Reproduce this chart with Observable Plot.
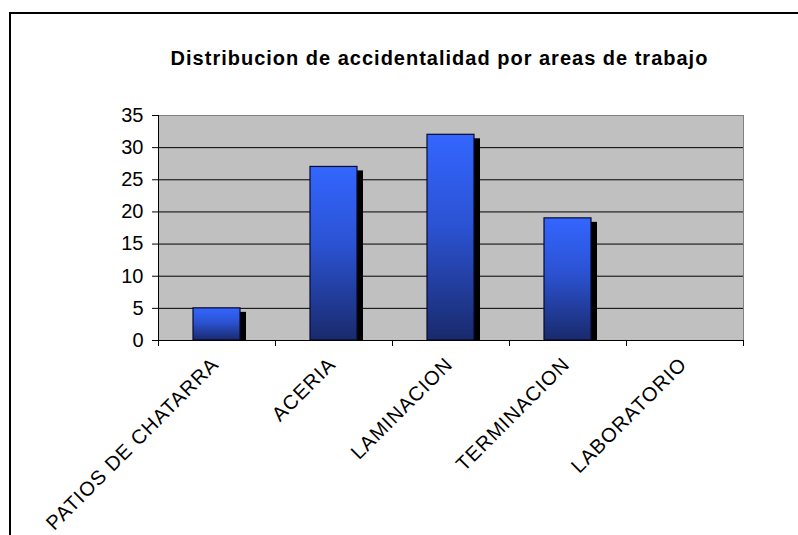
<!DOCTYPE html>
<html>
<head>
<meta charset="utf-8">
<script src="https://cdn.jsdelivr.net/npm/d3@7"></script>
<script src="https://cdn.jsdelivr.net/npm/@observablehq/plot@0.6"></script>
<style>
  body { margin: 0; background: #fff; font-family: "Liberation Sans", Arial, sans-serif; }
  #wrap { position: relative; width: 798px; height: 535px; overflow: hidden; background: #fff; }
  #frame { position: absolute; left: 9px; top: 12px; width: 900px; height: 600px;
           border-left: 2px solid #000; border-top: 2px solid #000; }
  #title { position: absolute; left: 0; width: 879px; top: 48px; line-height: 20px;
           text-align: center; font-weight: bold; font-size: 20px; letter-spacing: 1px; color: #000; z-index: 2; }
  #wrap svg { position: absolute; left: 0; top: 0; }
</style>
</head>
<body>
<div id="wrap">
  <div id="frame"></div>
  <div id="title">Distribucion de accidentalidad por areas de trabajo</div>
</div>
<script>
const titleText = "Distribucion de accidentalidad por areas de trabajo";
const categories = ["PATIOS DE CHATARRA", "ACERIA", "LAMINACION", "TERMINACION", "LABORATORIO"];
const values = [5, 27, 32, 19, 0];
const yTicks = [0, 5, 10, 15, 20, 25, 30, 35];
const gridValues = [5, 10, 15, 20, 25, 30];

document.getElementById("title").textContent = titleText;

const data = categories.map((c, i) => ({cat: c, value: values[i]}));
const bars = data.filter(d => d.value > 0);

const svg = Plot.plot({
  width: 798,
  height: 535,
  marginLeft: 158,
  marginRight: 55,
  marginTop: 115,
  marginBottom: 195,
  style: {fontFamily: "'Liberation Sans', Arial, sans-serif", background: "transparent", color: "#000", overflow: "visible"},
  x: {domain: categories, padding: 0, label: null},
  y: {domain: [0, 35], label: null},
  marks: [
    Plot.frame({fill: "#c0c0c0", stroke: "#808080", strokeWidth: 1}),
    Plot.ruleY(gridValues, {stroke: "#000", strokeWidth: 1}),
    // shadows
    Plot.barY(bars, {x: "cat", y: "value", fill: "#000", insetLeft: 35, insetRight: 35, insetTop: 4, dx: 6}),
    // bars
    Plot.barY(bars, {x: "cat", y: "value", fill: "url(#barGrad)", stroke: "#0a0a2a", strokeWidth: 1.2, insetLeft: 35, insetRight: 35}),
    // axis lines
    Plot.ruleY([0], {stroke: "#000", strokeWidth: 1}),
    Plot.ruleX([categories[0]], {dx: -58.5, stroke: "#000", strokeWidth: 1}),
    // y axis ticks and labels
    Plot.axisY({ticks: yTicks, tickSize: 6, tickPadding: 9, fontSize: 20, label: null, stroke: "#000", fill: "#000"}),
    // x boundary ticks
    Plot.axisX({ticks: categories, tickSize: 6, text: null, label: null, dx: -58.5, stroke: "#000"}),
    Plot.axisX({ticks: [categories[categories.length - 1]], tickSize: 6, text: null, label: null, dx: 58.5, stroke: "#000"}),
    // category labels
    Plot.text(categories, {x: d => d, frameAnchor: "bottom", rotate: -45, textAnchor: "end", lineAnchor: "bottom",
      dx: 3, dy: 25, fontSize: 20, fill: "#000"})
  ]
});

const defs = d3.select(svg).insert("defs", ":first-child");
const grad = defs.append("linearGradient").attr("id", "barGrad")
  .attr("x1", 0).attr("y1", 0).attr("x2", 0).attr("y2", 1);
grad.append("stop").attr("offset", "0%").attr("stop-color", "#3366ff");
grad.append("stop").attr("offset", "45%").attr("stop-color", "#2b52d2");
grad.append("stop").attr("offset", "100%").attr("stop-color", "#192a6c");

d3.select(svg).selectAll("text")
  .filter(function() { return categories.includes(this.textContent); })
  .style("letter-spacing", "1px");

document.getElementById("wrap").appendChild(svg);
</script>
</body>
</html>
